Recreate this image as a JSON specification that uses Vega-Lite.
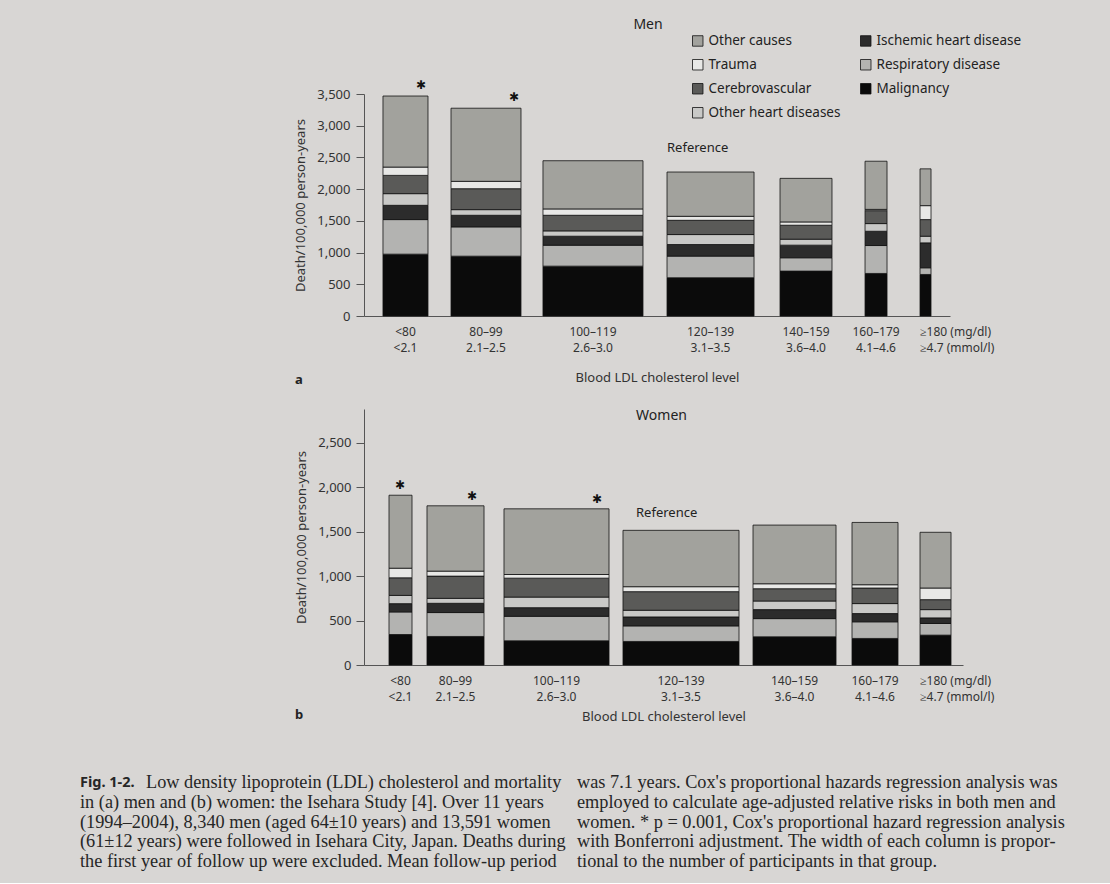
{
  "$schema": "https://vega.github.io/schema/vega-lite/v6.json",
  "background": "#d8d6d4",
  "padding": {"left": 80, "top": 18, "right": 46, "bottom": 12},
  "bounds": "flush",
  "spacing": 93,
  "config": {
    "view": {"stroke": null},
    "font": "Noto Sans",
    "axis": {"domainColor": "#555", "tickColor": "#555", "labelColor": "#333", "titleColor": "#333", "labelFont": "Noto Sans", "titleFont": "Noto Sans", "titleFontWeight": "normal", "grid": false},
    "title": {"font": "Noto Sans", "fontWeight": "normal", "color": "#222", "fontSize": 14}
  },
  "resolve": {"scale": {"fill": "independent"}, "legend": {"fill": "independent"}},
  "datasets": {
    "men": [
      {"grp": "<80", "mg": "<80", "mmol": "<2.1", "lo": 409, "hi": 1379, "sig": true, "ref": false, "Malignancy": 975, "Respiratory disease": 545, "Ischemic heart disease": 225, "Other heart diseases": 184, "Cerebrovascular": 288, "Trauma": 131, "Other causes": 1120},
      {"grp": "80–99", "mg": "80–99", "mmol": "2.1–2.5", "lo": 1875, "hi": 3383, "sig": true, "ref": false, "Malignancy": 943, "Respiratory disease": 462, "Ischemic heart disease": 183, "Other heart diseases": 89, "Cerebrovascular": 330, "Trauma": 116, "Other causes": 1153},
      {"grp": "100–119", "mg": "100–119", "mmol": "2.6–3.0", "lo": 3857, "hi": 6012, "sig": false, "ref": false, "Malignancy": 786, "Respiratory disease": 330, "Ischemic heart disease": 142, "Other heart diseases": 84, "Cerebrovascular": 246, "Trauma": 100, "Other causes": 760},
      {"grp": "120–139", "mg": "120–139", "mmol": "3.1–3.5", "lo": 6530, "hi": 8405, "sig": false, "ref": true, "Malignancy": 603, "Respiratory disease": 341, "Ischemic heart disease": 183, "Other heart diseases": 157, "Cerebrovascular": 225, "Trauma": 63, "Other causes": 698},
      {"grp": "140–159", "mg": "140–159", "mmol": "3.6–4.0", "lo": 8965, "hi": 10085, "sig": false, "ref": false, "Malignancy": 708, "Respiratory disease": 210, "Ischemic heart disease": 199, "Other heart diseases": 94, "Cerebrovascular": 220, "Trauma": 52, "Other causes": 687},
      {"grp": "160–179", "mg": "160–179", "mmol": "4.1–4.6", "lo": 10797, "hi": 11271, "sig": false, "ref": false, "Malignancy": 671, "Respiratory disease": 440, "Ischemic heart disease": 225, "Other heart diseases": 121, "Cerebrovascular": 204, "Trauma": 20, "Other causes": 759},
      {"grp": "≥180", "mg": "≥180  (mg/dl)", "mmol": "≥4.7  (mmol/l)", "lo": 11982, "hi": 12219, "sig": false, "ref": false, "Malignancy": 655, "Respiratory disease": 105, "Ischemic heart disease": 393, "Other heart diseases": 105, "Cerebrovascular": 262, "Trauma": 220, "Other causes": 580}
    ],
    "women": [
      {"grp": "<80", "mg": "<80", "mmol": "<2.1", "lo": 737, "hi": 1415, "sig": true, "ref": false, "Malignancy": 343, "Respiratory disease": 254, "Ischemic heart disease": 93, "Other heart diseases": 93, "Cerebrovascular": 198, "Trauma": 108, "Other causes": 821},
      {"grp": "80–99", "mg": "80–99", "mmol": "2.1–2.5", "lo": 1857, "hi": 3538, "sig": true, "ref": false, "Malignancy": 321, "Respiratory disease": 269, "Ischemic heart disease": 104, "Other heart diseases": 56, "Cerebrovascular": 250, "Trauma": 56, "Other causes": 735},
      {"grp": "100–119", "mg": "100–119", "mmol": "2.6–3.0", "lo": 4127, "hi": 7223, "sig": true, "ref": false, "Malignancy": 272, "Respiratory disease": 276, "Ischemic heart disease": 97, "Other heart diseases": 119, "Cerebrovascular": 213, "Trauma": 41, "Other causes": 739},
      {"grp": "120–139", "mg": "120–139", "mmol": "3.1–3.5", "lo": 7635, "hi": 11055, "sig": false, "ref": true, "Malignancy": 265, "Respiratory disease": 175, "Ischemic heart disease": 101, "Other heart diseases": 75, "Cerebrovascular": 209, "Trauma": 56, "Other causes": 634},
      {"grp": "140–159", "mg": "140–159", "mmol": "3.6–4.0", "lo": 11468, "hi": 13915, "sig": false, "ref": false, "Malignancy": 317, "Respiratory disease": 205, "Ischemic heart disease": 101, "Other heart diseases": 97, "Cerebrovascular": 138, "Trauma": 56, "Other causes": 660},
      {"grp": "160–179", "mg": "160–179", "mmol": "4.1–4.6", "lo": 14386, "hi": 15742, "sig": false, "ref": false, "Malignancy": 299, "Respiratory disease": 187, "Ischemic heart disease": 93, "Other heart diseases": 112, "Cerebrovascular": 175, "Trauma": 37, "Other causes": 701},
      {"grp": "≥180", "mg": "≥180  (mg/dl)", "mmol": "≥4.7  (mmol/l)", "lo": 16391, "hi": 17305, "sig": false, "ref": false, "Malignancy": 336, "Respiratory disease": 131, "Ischemic heart disease": 63, "Other heart diseases": 93, "Cerebrovascular": 112, "Trauma": 131, "Other causes": 627}
    ],
    "caption": [
      {"col": "left", "line": 1, "kind": "head", "text": "Fig. 1-2."},
      {"col": "left", "line": 1, "kind": "lead", "text": "Low density lipoprotein (LDL) cholesterol and mortality"},
      {"col": "left", "line": 2, "kind": "body", "text": "in (a) men and (b) women: the Isehara Study [4]. Over 11 years"},
      {"col": "left", "line": 3, "kind": "body", "text": "(1994–2004), 8,340 men (aged 64±10 years) and 13,591 women"},
      {"col": "left", "line": 4, "kind": "body", "text": "(61±12 years) were followed in Isehara City, Japan. Deaths during"},
      {"col": "left", "line": 5, "kind": "body", "text": "the first year of follow up were excluded. Mean follow-up period"},
      {"col": "right", "line": 1, "kind": "body", "text": "was 7.1 years. Cox's proportional hazards regression analysis was"},
      {"col": "right", "line": 2, "kind": "body", "text": "employed to calculate age-adjusted relative risks in both men and"},
      {"col": "right", "line": 3, "kind": "body", "text": "women. * p = 0.001, Cox's proportional hazard regression analysis"},
      {"col": "right", "line": 4, "kind": "body", "text": "with Bonferroni adjustment. The width of each column is propor-"},
      {"col": "right", "line": 5, "kind": "body", "text": "tional to the number of participants in that group."}
    ]
  },
  "vconcat": [
    {
      "data": {"name": "men"},
      "width": 586,
      "height": 222,
      "title": {"text": "Men", "offset": 2, "dx": -9, "frame": "group"},
      "layer": [
        {
          "transform": [
            {"fold": ["Malignancy", "Respiratory disease", "Ischemic heart disease", "Other heart diseases", "Cerebrovascular", "Trauma", "Other causes"], "as": ["cause", "deaths"]},
            {"stack": "deaths", "groupby": ["grp"], "as": ["y0", "y1"]}
          ],
          "mark": {"type": "bar", "stroke": "#111", "strokeWidth": 0.8},
          "encoding": {
            "x": {"field": "lo", "type": "quantitative", "title": "Blood LDL cholesterol level", "scale": {"domain": [0, 12628], "nice": false, "zero": false}, "axis": {"labels": false, "ticks": false, "titlePadding": 55, "titleFontSize": 13}},
            "x2": {"field": "hi"},
            "y": {"field": "y1", "type": "quantitative", "title": "Death/100,000 person-years", "scale": {"domain": [0, 3500], "nice": false}, "axis": {"values": [0, 500, 1000, 1500, 2000, 2500, 3000, 3500], "format": ",d", "tickSize": 8, "labelPadding": 6, "labelFontSize": 13, "titleFontSize": 13, "titlePadding": 9}},
            "y2": {"field": "y0"},
            "fill": {
              "field": "cause", "type": "nominal",
              "scale": {
                "domain": ["Other causes", "Trauma", "Cerebrovascular", "Other heart diseases", "Ischemic heart disease", "Respiratory disease", "Malignancy"],
                "range": ["#a2a29d", "#e8e8e6", "#5a5a58", "#c9c9c7", "#2c2c2c", "#b3b3b1", "#0b0b0b"]
              },
              "legend": {"orient": "none", "legendX": 327, "legendY": -60, "columns": 2, "title": null, "symbolType": "square", "symbolSize": 110, "symbolStrokeColor": "#111", "symbolStrokeWidth": 0.8, "labelFontSize": 13.5, "labelFont": "Noto Sans", "labelColor": "#222", "rowPadding": 9, "columnPadding": 17, "padding": 0, "labelLimit": 300}
            }
          }
        },
        {
          "transform": [
            {"fold": ["Malignancy", "Respiratory disease", "Ischemic heart disease", "Other heart diseases", "Cerebrovascular", "Trauma", "Other causes"], "as": ["cause", "deaths"]},
            {"aggregate": [{"op": "sum", "field": "deaths", "as": "total"}], "groupby": ["grp", "lo", "hi", "sig", "ref"]},
            {"filter": {"field": "sig", "equal": true}}
          ],
          "mark": {"type": "text", "text": "✱", "font": "DejaVu Sans", "fontSize": 12, "dx": -7, "dy": -11, "color": "#111", "baseline": "middle"},
          "encoding": {
            "x": {"field": "hi", "type": "quantitative", "title": "Blood LDL cholesterol level", "axis": {"labels": false, "ticks": false, "titlePadding": 55, "titleFontSize": 13}},
            "y": {"field": "total", "type": "quantitative", "title": "Death/100,000 person-years", "axis": {"values": [0, 500, 1000, 1500, 2000, 2500, 3000, 3500], "format": ",d", "tickSize": 8, "labelPadding": 6, "labelFontSize": 13, "titleFontSize": 13, "titlePadding": 9}}
          }
        },
        {
          "transform": [
            {"fold": ["Malignancy", "Respiratory disease", "Ischemic heart disease", "Other heart diseases", "Cerebrovascular", "Trauma", "Other causes"], "as": ["cause", "deaths"]},
            {"aggregate": [{"op": "sum", "field": "deaths", "as": "total"}], "groupby": ["grp", "lo", "hi", "sig", "ref"]},
            {"filter": {"field": "ref", "equal": true}}
          ],
          "mark": {"type": "text", "text": "Reference", "fontSize": 13, "align": "left", "baseline": "middle", "dx": 0, "dy": -24, "color": "#222"},
          "encoding": {
            "x": {"field": "lo", "type": "quantitative", "title": "Blood LDL cholesterol level", "axis": {"labels": false, "ticks": false, "titlePadding": 55, "titleFontSize": 13}},
            "y": {"field": "total", "type": "quantitative", "title": "Death/100,000 person-years", "axis": {"values": [0, 500, 1000, 1500, 2000, 2500, 3000, 3500], "format": ",d", "tickSize": 8, "labelPadding": 6, "labelFontSize": 13, "titleFontSize": 13, "titlePadding": 9}}
          }
        },
        {
          "transform": [
            {"fold": ["lo", "hi"], "as": ["edge", "pos"]},
            {"aggregate": [{"op": "mean", "field": "pos", "as": "mid"}], "groupby": ["grp", "mg", "mmol"]},
            {"filter": {"not": {"field": "grp", "equal": "≥180"}}}
          ],
          "mark": {"type": "text", "fontSize": 12, "align": "center", "baseline": "middle", "dy": 16, "color": "#333"},
          "encoding": {
            "x": {"field": "mid", "type": "quantitative", "title": "Blood LDL cholesterol level", "axis": {"labels": false, "ticks": false, "titlePadding": 55, "titleFontSize": 13}},
            "y": {"datum": 0, "type": "quantitative", "title": "Death/100,000 person-years", "axis": {"values": [0, 500, 1000, 1500, 2000, 2500, 3000, 3500], "format": ",d", "tickSize": 8, "labelPadding": 6, "labelFontSize": 13, "titleFontSize": 13, "titlePadding": 9}},
            "text": {"field": "mg"}
          }
        },
        {
          "transform": [
            {"fold": ["lo", "hi"], "as": ["edge", "pos"]},
            {"aggregate": [{"op": "mean", "field": "pos", "as": "mid"}], "groupby": ["grp", "mg", "mmol"]},
            {"filter": {"not": {"field": "grp", "equal": "≥180"}}}
          ],
          "mark": {"type": "text", "fontSize": 12, "align": "center", "baseline": "middle", "dy": 32, "color": "#333"},
          "encoding": {
            "x": {"field": "mid", "type": "quantitative", "title": "Blood LDL cholesterol level", "axis": {"labels": false, "ticks": false, "titlePadding": 55, "titleFontSize": 13}},
            "y": {"datum": 0, "type": "quantitative", "title": "Death/100,000 person-years", "axis": {"values": [0, 500, 1000, 1500, 2000, 2500, 3000, 3500], "format": ",d", "tickSize": 8, "labelPadding": 6, "labelFontSize": 13, "titleFontSize": 13, "titlePadding": 9}},
            "text": {"field": "mmol"}
          }
        },
        {
          "transform": [{"filter": {"field": "grp", "equal": "≥180"}}],
          "mark": {"type": "text", "fontSize": 12, "align": "left", "baseline": "middle", "dy": 16, "color": "#333"},
          "encoding": {
            "x": {"field": "lo", "type": "quantitative", "title": "Blood LDL cholesterol level", "axis": {"labels": false, "ticks": false, "titlePadding": 55, "titleFontSize": 13}},
            "y": {"datum": 0, "type": "quantitative", "title": "Death/100,000 person-years", "axis": {"values": [0, 500, 1000, 1500, 2000, 2500, 3000, 3500], "format": ",d", "tickSize": 8, "labelPadding": 6, "labelFontSize": 13, "titleFontSize": 13, "titlePadding": 9}},
            "text": {"field": "mg"}
          }
        },
        {
          "transform": [{"filter": {"field": "grp", "equal": "≥180"}}],
          "mark": {"type": "text", "fontSize": 12, "align": "left", "baseline": "middle", "dy": 32, "color": "#333"},
          "encoding": {
            "x": {"field": "lo", "type": "quantitative", "title": "Blood LDL cholesterol level", "axis": {"labels": false, "ticks": false, "titlePadding": 55, "titleFontSize": 13}},
            "y": {"datum": 0, "type": "quantitative", "title": "Death/100,000 person-years", "axis": {"values": [0, 500, 1000, 1500, 2000, 2500, 3000, 3500], "format": ",d", "tickSize": 8, "labelPadding": 6, "labelFontSize": 13, "titleFontSize": 13, "titlePadding": 9}},
            "text": {"field": "mmol"}
          }
        },
        {
          "data": {"values": [{"panel": "a"}]},
          "mark": {"type": "text", "fontSize": 13, "fontWeight": "bold", "align": "center", "baseline": "middle", "dx": -65, "dy": 64, "color": "#222"},
          "encoding": {
            "x": {"datum": 0, "type": "quantitative", "title": "Blood LDL cholesterol level", "axis": {"labels": false, "ticks": false, "titlePadding": 55, "titleFontSize": 13}},
            "y": {"datum": 0, "type": "quantitative", "title": "Death/100,000 person-years", "axis": {"values": [0, 500, 1000, 1500, 2000, 2500, 3000, 3500], "format": ",d", "tickSize": 8, "labelPadding": 6, "labelFontSize": 13, "titleFontSize": 13, "titlePadding": 9}},
            "text": {"field": "panel"}
          }
        }
      ]
    },
    {
      "data": {"name": "women"},
      "width": 599,
      "height": 256,
      "title": {"text": "Women", "offset": -14, "dx": -2, "frame": "group"},
      "layer": [
        {
          "transform": [
            {"fold": ["Malignancy", "Respiratory disease", "Ischemic heart disease", "Other heart diseases", "Cerebrovascular", "Trauma", "Other causes"], "as": ["cause", "deaths"]},
            {"stack": "deaths", "groupby": ["grp"], "as": ["y0", "y1"]}
          ],
          "mark": {"type": "bar", "stroke": "#111", "strokeWidth": 0.8},
          "encoding": {
            "x": {"field": "lo", "type": "quantitative", "title": "Blood LDL cholesterol level", "scale": {"domain": [0, 17658], "nice": false, "zero": false}, "axis": {"labels": false, "ticks": false, "titlePadding": 45, "titleFontSize": 13}},
            "x2": {"field": "hi"},
            "y": {"field": "y1", "type": "quantitative", "title": "Death/100,000 person-years", "scale": {"domain": [0, 2880], "nice": false}, "axis": {"values": [0, 500, 1000, 1500, 2000, 2500], "format": ",d", "tickSize": 8, "labelPadding": 5, "labelFontSize": 13, "titleFontSize": 13, "titlePadding": 9}},
            "y2": {"field": "y0"},
            "fill": {
              "field": "cause", "type": "nominal",
              "scale": {
                "domain": ["Other causes", "Trauma", "Cerebrovascular", "Other heart diseases", "Ischemic heart disease", "Respiratory disease", "Malignancy"],
                "range": ["#a2a29d", "#e8e8e6", "#5a5a58", "#c9c9c7", "#2c2c2c", "#b3b3b1", "#0b0b0b"]
              },
              "legend": null
            }
          }
        },
        {
          "transform": [
            {"fold": ["Malignancy", "Respiratory disease", "Ischemic heart disease", "Other heart diseases", "Cerebrovascular", "Trauma", "Other causes"], "as": ["cause", "deaths"]},
            {"aggregate": [{"op": "sum", "field": "deaths", "as": "total"}], "groupby": ["grp", "lo", "hi", "sig", "ref"]},
            {"filter": {"field": "sig", "equal": true}}
          ],
          "mark": {"type": "text", "text": "✱", "font": "DejaVu Sans", "fontSize": 12, "dx": -12, "dy": -10, "color": "#111", "baseline": "middle"},
          "encoding": {
            "x": {"field": "hi", "type": "quantitative", "title": "Blood LDL cholesterol level", "axis": {"labels": false, "ticks": false, "titlePadding": 45, "titleFontSize": 13}},
            "y": {"field": "total", "type": "quantitative", "title": "Death/100,000 person-years", "axis": {"values": [0, 500, 1000, 1500, 2000, 2500], "format": ",d", "tickSize": 8, "labelPadding": 5, "labelFontSize": 13, "titleFontSize": 13, "titlePadding": 9}}
          }
        },
        {
          "transform": [
            {"fold": ["Malignancy", "Respiratory disease", "Ischemic heart disease", "Other heart diseases", "Cerebrovascular", "Trauma", "Other causes"], "as": ["cause", "deaths"]},
            {"aggregate": [{"op": "sum", "field": "deaths", "as": "total"}], "groupby": ["grp", "lo", "hi", "sig", "ref"]},
            {"filter": {"field": "ref", "equal": true}}
          ],
          "mark": {"type": "text", "text": "Reference", "fontSize": 13, "align": "left", "baseline": "middle", "dx": 13, "dy": -17, "color": "#222"},
          "encoding": {
            "x": {"field": "lo", "type": "quantitative", "title": "Blood LDL cholesterol level", "axis": {"labels": false, "ticks": false, "titlePadding": 45, "titleFontSize": 13}},
            "y": {"field": "total", "type": "quantitative", "title": "Death/100,000 person-years", "axis": {"values": [0, 500, 1000, 1500, 2000, 2500], "format": ",d", "tickSize": 8, "labelPadding": 5, "labelFontSize": 13, "titleFontSize": 13, "titlePadding": 9}}
          }
        },
        {
          "transform": [
            {"fold": ["lo", "hi"], "as": ["edge", "pos"]},
            {"aggregate": [{"op": "mean", "field": "pos", "as": "mid"}], "groupby": ["grp", "mg", "mmol"]},
            {"filter": {"not": {"field": "grp", "equal": "≥180"}}}
          ],
          "mark": {"type": "text", "fontSize": 12, "align": "center", "baseline": "middle", "dy": 16, "color": "#333"},
          "encoding": {
            "x": {"field": "mid", "type": "quantitative", "title": "Blood LDL cholesterol level", "axis": {"labels": false, "ticks": false, "titlePadding": 45, "titleFontSize": 13}},
            "y": {"datum": 0, "type": "quantitative", "title": "Death/100,000 person-years", "axis": {"values": [0, 500, 1000, 1500, 2000, 2500], "format": ",d", "tickSize": 8, "labelPadding": 5, "labelFontSize": 13, "titleFontSize": 13, "titlePadding": 9}},
            "text": {"field": "mg"}
          }
        },
        {
          "transform": [
            {"fold": ["lo", "hi"], "as": ["edge", "pos"]},
            {"aggregate": [{"op": "mean", "field": "pos", "as": "mid"}], "groupby": ["grp", "mg", "mmol"]},
            {"filter": {"not": {"field": "grp", "equal": "≥180"}}}
          ],
          "mark": {"type": "text", "fontSize": 12, "align": "center", "baseline": "middle", "dy": 32, "color": "#333"},
          "encoding": {
            "x": {"field": "mid", "type": "quantitative", "title": "Blood LDL cholesterol level", "axis": {"labels": false, "ticks": false, "titlePadding": 45, "titleFontSize": 13}},
            "y": {"datum": 0, "type": "quantitative", "title": "Death/100,000 person-years", "axis": {"values": [0, 500, 1000, 1500, 2000, 2500], "format": ",d", "tickSize": 8, "labelPadding": 5, "labelFontSize": 13, "titleFontSize": 13, "titlePadding": 9}},
            "text": {"field": "mmol"}
          }
        },
        {
          "transform": [{"filter": {"field": "grp", "equal": "≥180"}}],
          "mark": {"type": "text", "fontSize": 12, "align": "left", "baseline": "middle", "dy": 16, "color": "#333"},
          "encoding": {
            "x": {"field": "lo", "type": "quantitative", "title": "Blood LDL cholesterol level", "axis": {"labels": false, "ticks": false, "titlePadding": 45, "titleFontSize": 13}},
            "y": {"datum": 0, "type": "quantitative", "title": "Death/100,000 person-years", "axis": {"values": [0, 500, 1000, 1500, 2000, 2500], "format": ",d", "tickSize": 8, "labelPadding": 5, "labelFontSize": 13, "titleFontSize": 13, "titlePadding": 9}},
            "text": {"field": "mg"}
          }
        },
        {
          "transform": [{"filter": {"field": "grp", "equal": "≥180"}}],
          "mark": {"type": "text", "fontSize": 12, "align": "left", "baseline": "middle", "dy": 32, "color": "#333"},
          "encoding": {
            "x": {"field": "lo", "type": "quantitative", "title": "Blood LDL cholesterol level", "axis": {"labels": false, "ticks": false, "titlePadding": 45, "titleFontSize": 13}},
            "y": {"datum": 0, "type": "quantitative", "title": "Death/100,000 person-years", "axis": {"values": [0, 500, 1000, 1500, 2000, 2500], "format": ",d", "tickSize": 8, "labelPadding": 5, "labelFontSize": 13, "titleFontSize": 13, "titlePadding": 9}},
            "text": {"field": "mmol"}
          }
        },
        {
          "data": {"values": [{"panel": "b"}]},
          "mark": {"type": "text", "fontSize": 13, "fontWeight": "bold", "align": "center", "baseline": "middle", "dx": -65, "dy": 50, "color": "#222"},
          "encoding": {
            "x": {"datum": 0, "type": "quantitative", "title": "Blood LDL cholesterol level", "axis": {"labels": false, "ticks": false, "titlePadding": 45, "titleFontSize": 13}},
            "y": {"datum": 0, "type": "quantitative", "title": "Death/100,000 person-years", "axis": {"values": [0, 500, 1000, 1500, 2000, 2500], "format": ",d", "tickSize": 8, "labelPadding": 5, "labelFontSize": 13, "titleFontSize": 13, "titlePadding": 9}},
            "text": {"field": "panel"}
          }
        }
      ]
    },
    {
      "data": {"name": "caption"},
      "width": 599,
      "height": 100,
      "encoding": {
        "x": {"field": "col", "type": "nominal", "scale": {"type": "point", "domain": ["left", "right"], "range": [-284, 213], "padding": 0}, "axis": null},
        "y": {"field": "line", "type": "ordinal", "scale": {"type": "point", "domain": [1, 2, 3, 4, 5], "range": [25, 104], "padding": 0}, "axis": null},
        "text": {"field": "text"}
      },
      "layer": [
        {
          "transform": [{"filter": {"field": "kind", "equal": "body"}}],
          "mark": {"type": "text", "align": "left", "baseline": "middle", "font": "Liberation Serif", "fontSize": 18.3, "color": "#262626"}
        },
        {
          "transform": [{"filter": {"field": "kind", "equal": "lead"}}],
          "mark": {"type": "text", "align": "left", "baseline": "middle", "font": "Liberation Serif", "fontSize": 18.3, "color": "#262626", "dx": 66}
        },
        {
          "transform": [{"filter": {"field": "kind", "equal": "head"}}],
          "mark": {"type": "text", "align": "left", "baseline": "middle", "font": "Noto Sans", "fontWeight": "bold", "fontSize": 14.5, "color": "#262626"}
        }
      ]
    }
  ]
}
